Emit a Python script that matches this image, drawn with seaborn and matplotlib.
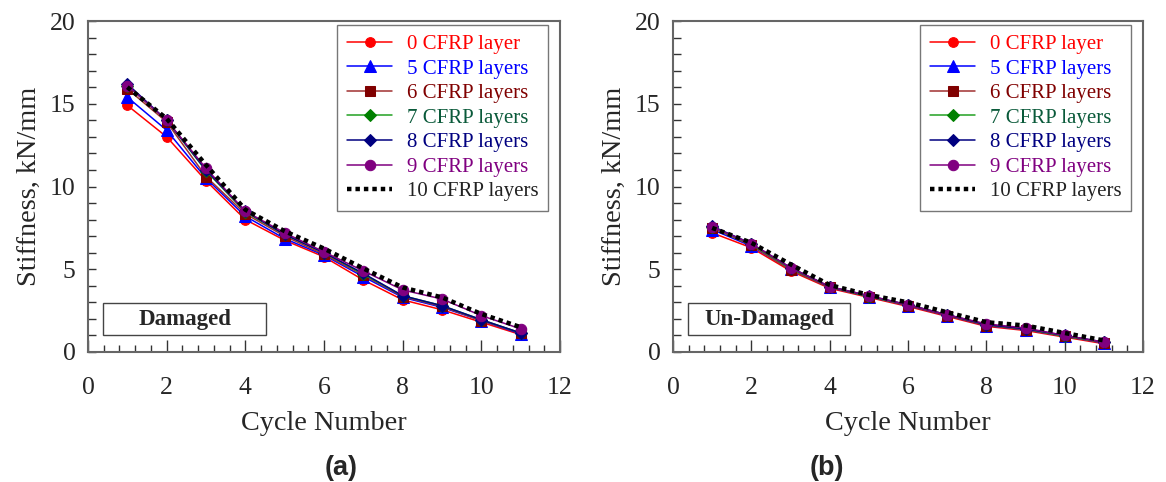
import matplotlib
matplotlib.use("Agg")
import matplotlib.pyplot as plt
from matplotlib.patches import Rectangle
from matplotlib.ticker import MultipleLocator
import seaborn as sns
import pandas as pd

sns.set_theme(style="white")
plt.rcParams["font.family"] = ["Liberation Serif", "DejaVu Serif"]

cycles = [1, 2, 3, 4, 5, 6, 7, 8, 9, 10, 11]
series_names = ["0 CFRP layer", "5 CFRP layers", "6 CFRP layers", "7 CFRP layers",
                "8 CFRP layers", "9 CFRP layers", "10 CFRP layers"]

damaged_0 = [14.9, 13.0, 10.35, 8.0, 6.75, 5.75, 4.35, 3.15, 2.55, 1.8, 1.05]
damaged_5 = [15.4, 13.4, 10.5, 8.2, 6.85, 5.85, 4.55, 3.3, 2.7, 1.9, 1.1]
damaged_6 = [15.9, 13.9, 10.6, 8.35, 7.0, 5.9, 4.65, 3.35, 2.75, 1.9, 1.15]
damaged_7 = [16.1, 14.0, 10.95, 8.45, 7.1, 6.0, 4.7, 3.4, 2.8, 1.95, 1.15]
damaged_8 = [16.2, 14.0, 11.0, 8.5, 7.1, 6.0, 4.75, 3.4, 2.8, 1.95, 1.15]
damaged_9 = [16.1, 14.0, 11.1, 8.5, 7.2, 6.05, 4.9, 3.75, 3.2, 2.2, 1.4]
damaged_10 = [16.0, 14.1, 11.3, 8.6, 7.3, 6.25, 5.05, 3.9, 3.3, 2.3, 1.5]

undamaged_0 = [7.2, 6.3, 4.9, 3.85, 3.3, 2.75, 2.15, 1.55, 1.3, 0.9, 0.5]
undamaged_5 = [7.4, 6.4, 5.0, 3.9, 3.35, 2.8, 2.2, 1.6, 1.35, 0.95, 0.55]
undamaged_6 = [7.5, 6.45, 4.95, 3.9, 3.35, 2.8, 2.2, 1.6, 1.35, 0.95, 0.55]
undamaged_7 = [7.55, 6.5, 5.05, 3.95, 3.35, 2.85, 2.25, 1.65, 1.4, 0.95, 0.6]
undamaged_8 = [7.6, 6.55, 5.1, 3.95, 3.4, 2.85, 2.25, 1.65, 1.4, 1.0, 0.6]
undamaged_9 = [7.55, 6.55, 5.1, 3.95, 3.4, 2.85, 2.25, 1.7, 1.45, 1.0, 0.6]
undamaged_10 = [7.5, 6.6, 5.3, 4.05, 3.45, 3.0, 2.4, 1.8, 1.6, 1.15, 0.7]

damaged = [damaged_0, damaged_5, damaged_6, damaged_7, damaged_8, damaged_9, damaged_10]
undamaged = [undamaged_0, undamaged_5, undamaged_6, undamaged_7, undamaged_8, undamaged_9, undamaged_10]

line_colors = ["#ff0000", "#0000ff", "#a03030", "#22a022", "#000080", "#800080", "#000000"]
marker_colors = ["#ff0000", "#0000ff", "#800000", "#008000", "#000080", "#800080", "#000000"]
text_colors = ["#ff0000", "#0000ff", "#800000", "#0a5a3a", "#000080", "#800080", "#222222"]
markers = ["o", "^", "s", "D", "D", "o", None]
marker_sizes = [7, 8, 7, 6.5, 6.5, 7.5, 0]

spine_color = "#666666"

fig = plt.figure(figsize=(11.66, 4.82), dpi=100)
axes = [
    fig.add_axes([88 / 1166, 1 - 352 / 482, 472 / 1166, 331 / 482]),
    fig.add_axes([673 / 1166, 1 - 352 / 482, 470 / 1166, 331 / 482]),
]
panels = [(damaged, "Damaged", "(a)", 0.536), (undamaged, "Un-Damaged", "(b)", 0.328)]

for ax, (data, tag, letter, letter_x) in zip(axes, panels):
    for i, (name, vals) in enumerate(zip(series_names, data)):
        df = pd.DataFrame({"Cycle": cycles, "Stiffness": vals})
        if markers[i] is None:
            sns.lineplot(data=df, x="Cycle", y="Stiffness", ax=ax, color=line_colors[i],
                         linewidth=3.2, linestyle=(0, (1.0, 0.9)), label=name,
                         zorder=3)
            ax.lines[-1].set_dash_capstyle("butt")
        else:
            sns.lineplot(data=df, x="Cycle", y="Stiffness", ax=ax, color=line_colors[i],
                         linewidth=1.1, marker=markers[i], markersize=marker_sizes[i],
                         markerfacecolor=marker_colors[i], markeredgecolor=marker_colors[i],
                         label=name, zorder=2 + i * 0.1)

    ax.set_xlim(0, 12)
    ax.set_ylim(0, 20)
    ax.xaxis.set_major_locator(MultipleLocator(2))
    ax.xaxis.set_minor_locator(MultipleLocator(0.4))
    ax.yaxis.set_major_locator(MultipleLocator(5))
    ax.yaxis.set_minor_locator(MultipleLocator(1))
    ax.tick_params(axis="x", which="major", direction="in", length=9, width=1,
                   color="#333333", labelsize=18.5, pad=18, bottom=True)
    ax.tick_params(axis="x", which="minor", direction="in", length=5, width=1,
                   color="#333333", bottom=True)
    ax.tick_params(axis="y", which="major", direction="in", length=6, width=1,
                   color="#333333", labelsize=18.5, pad=9, left=True)
    ax.tick_params(axis="y", which="minor", direction="in", length=6, width=1,
                   color="#333333", left=True)
    for s in ax.spines.values():
        s.set_color(spine_color)
        s.set_linewidth(1.5)
        s.set_visible(True)

    ax.set_xlabel("Cycle Number", fontsize=20.3, labelpad=9)
    ax.set_ylabel("Stiffness, kN/mm", fontsize=20.3, labelpad=6)

    leg = ax.legend(loc="upper right", bbox_to_anchor=(1 - 12 / 472, 1 - 4 / 331),
                    borderaxespad=0, fontsize=15, frameon=True, fancybox=False,
                    edgecolor="#555555", handlelength=2.2, handletextpad=0.7,
                    labelspacing=0.24, borderpad=0.45)
    leg.get_frame().set_linewidth(1.0)
    for txt, c in zip(leg.get_texts(), text_colors):
        txt.set_color(c)

    ax.add_patch(Rectangle((0.032, 0.051), 0.345, 0.097, transform=ax.transAxes,
                           fill=False, edgecolor="#444444", linewidth=1.0, zorder=5))
    ax.text(0.032 + 0.345 / 2, 0.051 + 0.097 / 2, tag, transform=ax.transAxes,
            ha="center", va="center", fontsize=16.5, fontweight="bold", zorder=6)

    ax.text(letter_x, -0.35, letter, transform=ax.transAxes, ha="center", va="center",
            fontsize=19.5, fontweight="bold", family=["Liberation Sans", "DejaVu Sans"])

fig.savefig("out.png", dpi=100)
